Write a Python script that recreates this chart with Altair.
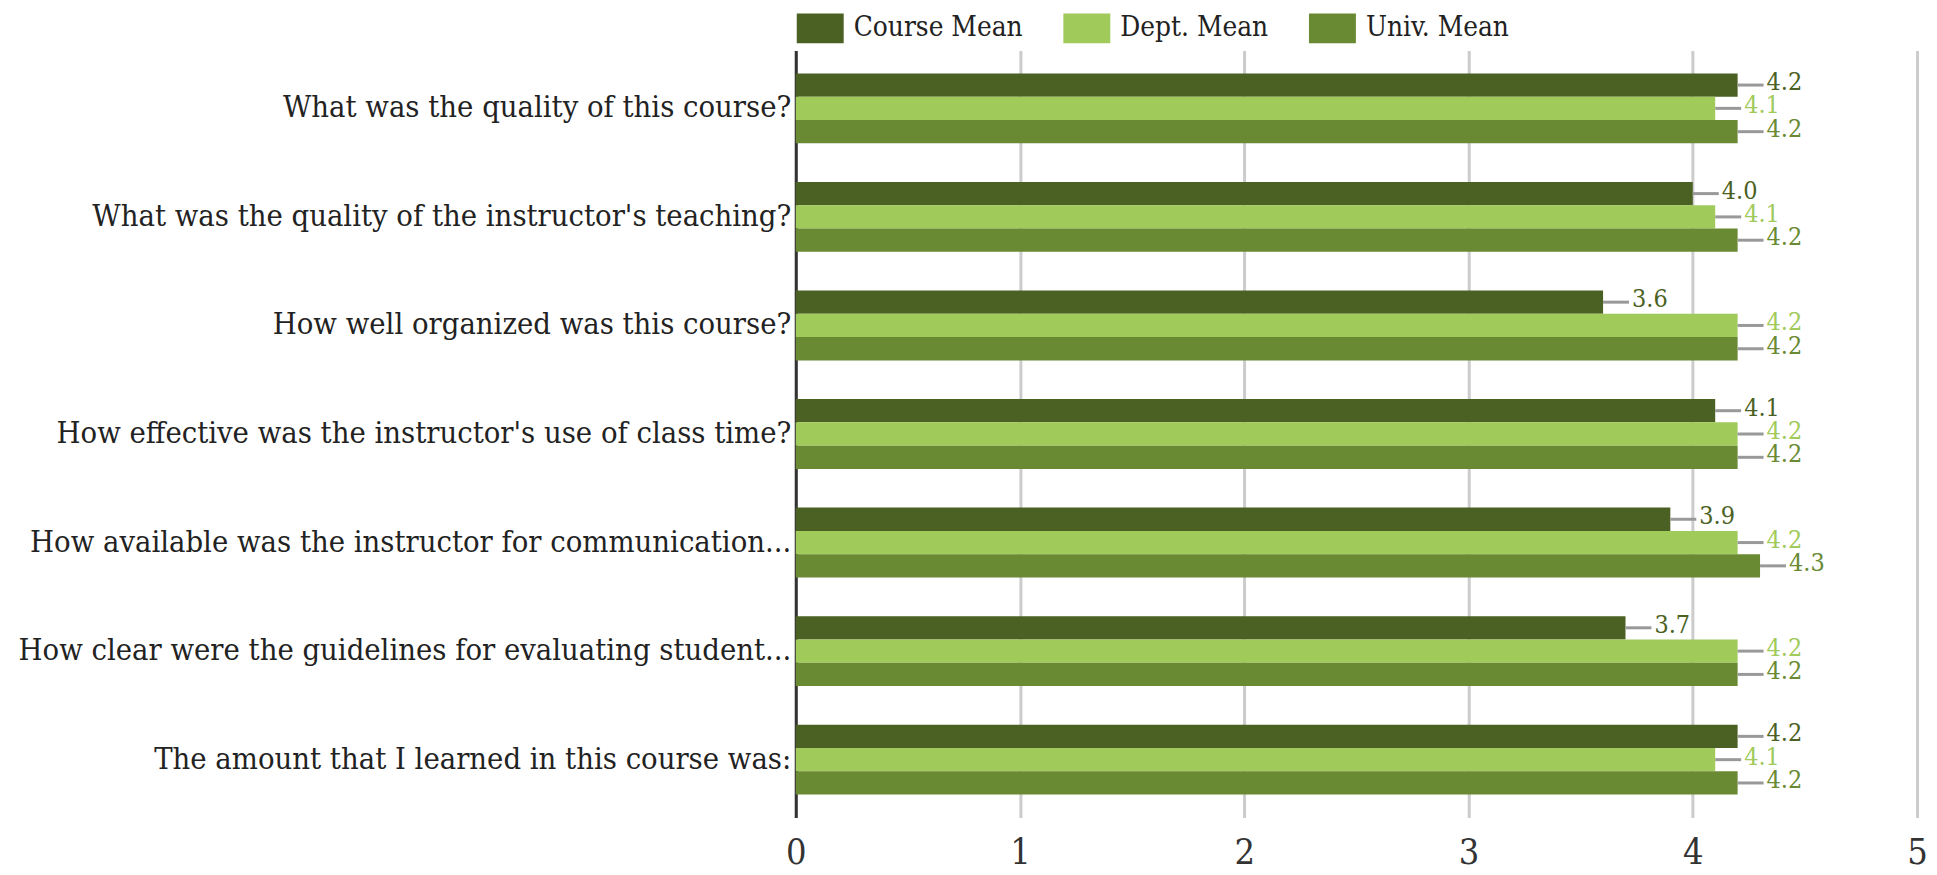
import altair as alt
import pandas as pd

questions = [
    "What was the quality of this course?",
    "What was the quality of the instructor's teaching?",
    "How well organized was this course?",
    "How effective was the instructor's use of class time?",
    "How available was the instructor for communication...",
    "How clear were the guidelines for evaluating student...",
    "The amount that I learned in this course was:",
]
series_names = ["Course Mean", "Dept. Mean", "Univ. Mean"]
course_mean = [4.2, 4.0, 3.6, 4.1, 3.9, 3.7, 4.2]
dept_mean = [4.1, 4.1, 4.2, 4.2, 4.2, 4.2, 4.1]
univ_mean = [4.2, 4.2, 4.2, 4.2, 4.3, 4.2, 4.2]
x_ticks = [0, 1, 2, 3, 4, 5]
colors = ["#4b6123", "#a0ca5a", "#698a32"]

rows = []
for name, vals in zip(series_names, [course_mean, dept_mean, univ_mean]):
    for q, v in zip(questions, vals):
        rows.append({"question": q, "series": name, "value": v})
df = pd.DataFrame(rows)

FONT = "DejaVu Serif Condensed, Liberation Serif, serif"

color_scale = alt.Scale(domain=series_names, range=colors)

base = alt.Chart(df).encode(
    y=alt.Y(
        "question:N",
        sort=questions,
        title=None,
        scale=alt.Scale(paddingInner=0.356, paddingOuter=0.21),
        axis=alt.Axis(
            domain=True,
            domainColor="#333333",
            domainWidth=3,
            ticks=False,
            grid=False,
            labelPadding=5,
            labelLimit=900,
            labelFont=FONT,
            labelFontSize=30.7,
            labelColor="#222222",
        ),
    ),
    yOffset=alt.YOffset("series:N", sort=series_names, scale=alt.Scale(paddingInner=0, paddingOuter=0)),
)

x_enc = alt.X(
    "value:Q",
    title=None,
    scale=alt.Scale(domain=[0, 5], nice=False),
    axis=alt.Axis(
        values=x_ticks,
        domain=False,
        ticks=False,
        grid=True,
        gridColor="#cccccc",
        gridWidth=3,
        labelFont=FONT,
        labelFontSize=36,
        labelColor="#333333",
        labelPadding=18,
        labelFlush=False,
        format="d",
    ),
)

bars = base.mark_bar().encode(
    x=x_enc,
    color=alt.Color(
        "series:N",
        sort=series_names,
        scale=color_scale,
        title=None,
        legend=alt.Legend(
            orient="none",
            direction="horizontal",
            legendX=1,
            legendY=-46,
            symbolType="M-1,-0.638L1,-0.638L1,0.638L-1,0.638Z",
            symbolSize=2209,
            symbolStrokeWidth=0,
            symbolOpacity=1,
            labelFont=FONT,
            labelFontSize=27.8,
            labelColor="#222222",
            labelLimit=400,
            labelOffset=10,
            columnPadding=40,
        ),
    ),
)

leaders = base.mark_rule(color="#999999", strokeWidth=3, x2Offset=26).encode(
    x="value:Q",
    x2="value:Q",
)

labels = base.mark_text(
    align="left", baseline="middle", dx=29, dy=-3, font=FONT, fontSize=25
).encode(
    x="value:Q",
    text=alt.Text("value:Q", format=".1f"),
    color=alt.Color("series:N", sort=series_names, scale=color_scale, legend=None),
)

chart = (
    alt.layer(bars, leaders, labels)
    .properties(
        width=1123,
        height=768,
        autosize=alt.AutoSizeParams(type="none"),
        padding={"left": 789, "top": 42, "right": 12, "bottom": 55},
        background="white",
    )
    .configure_view(stroke=None)
)

chart.save("out.html", embed_options={"renderer": "svg", "actions": False})
